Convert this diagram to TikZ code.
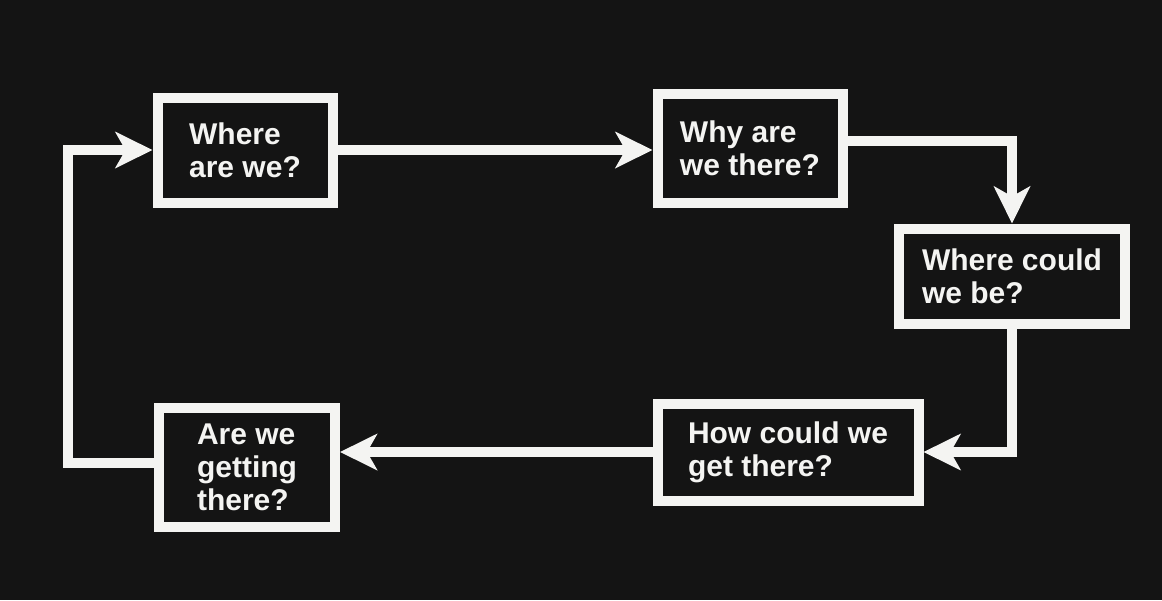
\documentclass[tikz,border=0pt]{standalone}
\usepackage{fontspec}
\setmainfont{Liberation Sans}
\usetikzlibrary{arrows.meta, positioning}
\definecolor{board}{HTML}{141414}
\definecolor{chalk}{HTML}{F4F4F2}

\begin{document}
\begin{tikzpicture}[
		x=0.5pt, y=-0.5pt,
		>={Stealth[length=18.5pt, width=18pt, inset=5pt]},
		stage/.style={
			draw=chalk, line width=5pt, fill=board, text=chalk,
			align=left, inner sep=0pt,
			font=\fontsize{15pt}{16.5pt}\selectfont\bfseries
		},
		arrow/.style={->, line width=5pt, chalk}
		]
		
		% Background of the picture, also fixing its size
		\fill[board] (0,0) rectangle (1162,600);
		
		% Question boxes, going round clockwise
		\node[stage, minimum width=87.5pt, minimum height=52.5pt] (where) at (245,150) {Where\\are we?};
		\node[stage, minimum width=92.5pt, minimum height=54.5pt] (why) at (750,148) {Why are\\we there?};
		\node[stage, minimum width=113pt, minimum height=47.5pt] (could) at (1012,276) {Where could\\we be?};
		\node[stage, minimum width=130.5pt, minimum height=48.5pt] (how) at (788,452) {How could we\\get there?};
		\node[stage, minimum width=88pt, minimum height=59.5pt] (getting) at (247,467) {Are we\\getting\\there?};
		
		% --- Connectors ---
		
		% Top row
		\draw[arrow] (where.east) -- (where.east -| why.west);
		
		% Down the right side
		\draw[arrow] ([yshift=3.5pt]why.east) -| (could.north);
		\draw[arrow] (could.south) |- (how.east);
		
		% Bottom row
		\draw[arrow] (how.west) -- (how.west -| getting.east);
		
		% Back up the left side
		\draw[arrow] ([yshift=2pt]getting.west) -- ++(-86,0) |- (where.west);
		
	\end{tikzpicture}
\end{document}
